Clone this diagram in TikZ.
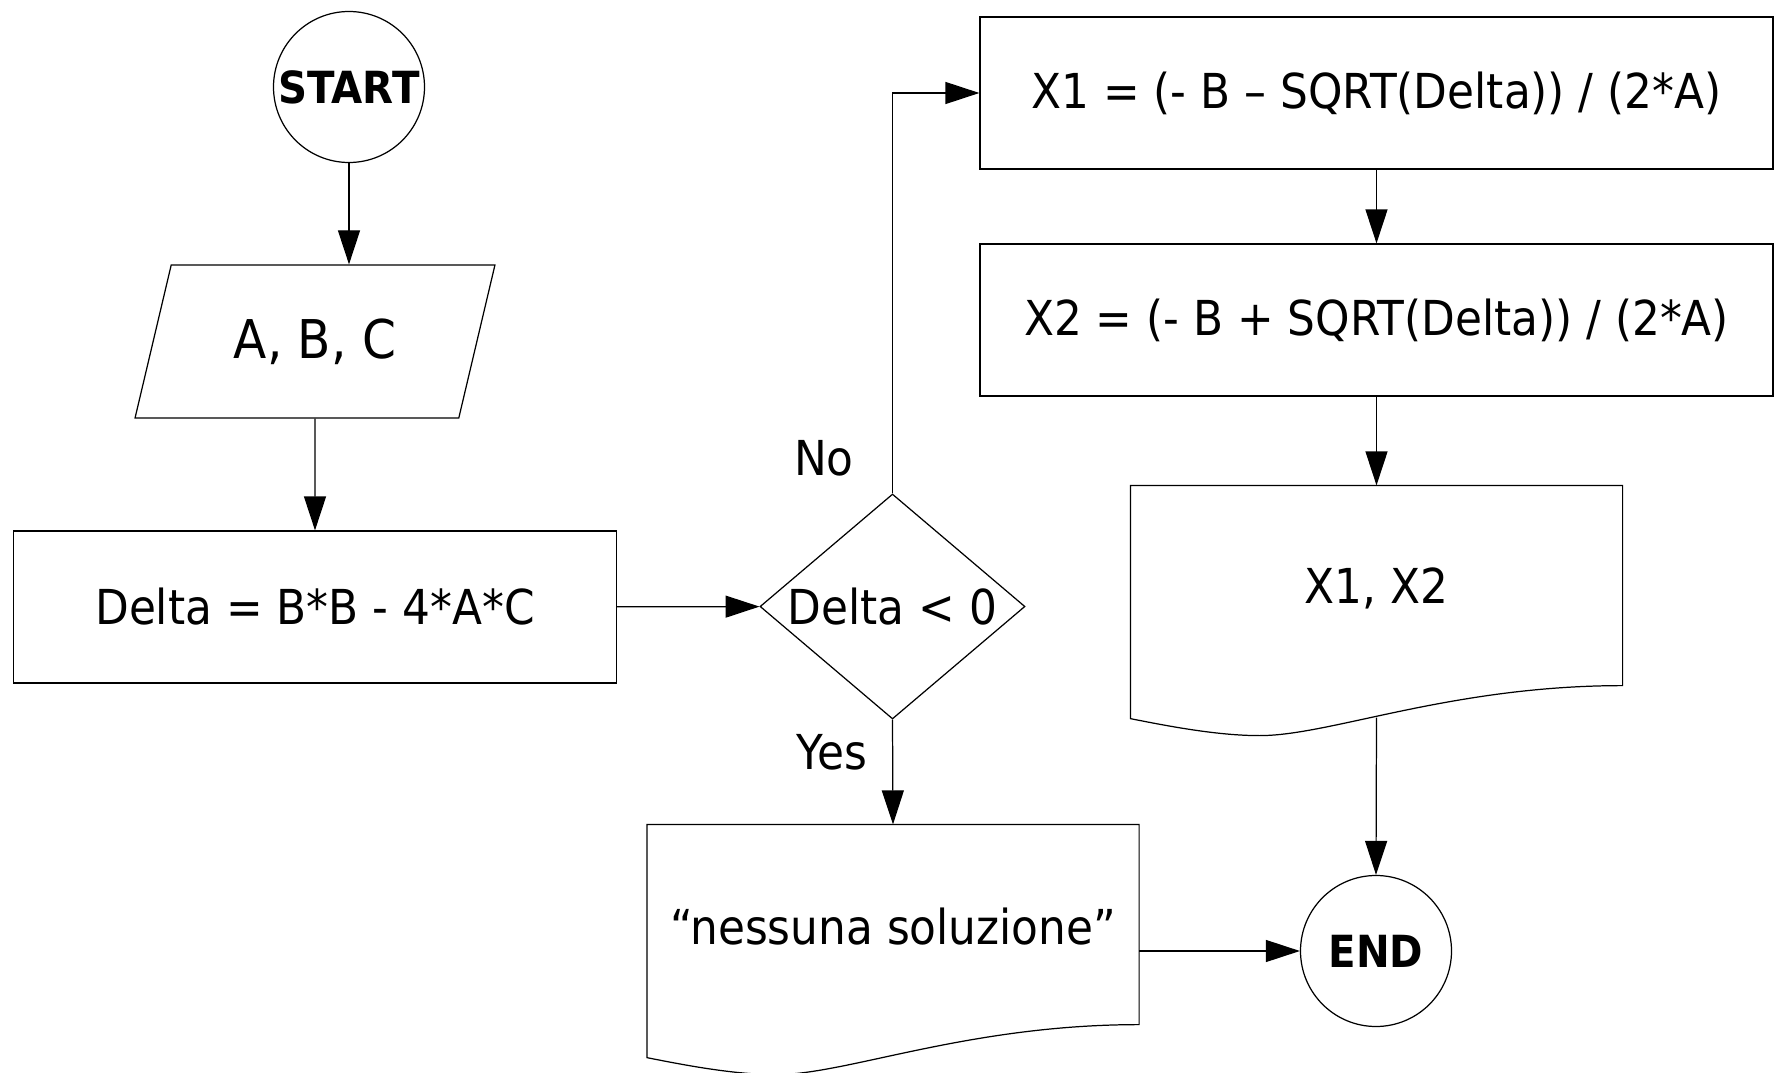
\documentclass[tikz,border=0pt]{standalone}
\usepackage{fontspec}
\setmainfont{DejaVu Sans}[FakeStretch=0.91]
\usetikzlibrary{arrows.meta, shapes.geometric, calc}

\newcommand{\docoutline}[1]{%
    \draw (#1.north west) -- (#1.north east) -- ($(#1.south east)+(0,-5)$)
        .. controls ($(#1.south east)+(-172,-5)$) and ($(#1.south east)+(-292,45)$) .. ($(#1.south east)+(-363,45)$)
        .. controls ($(#1.south west)+(88,45)$) and ($(#1.south west)+(40,36)$) .. ($(#1.south west)+(0,28)$) -- cycle;}

\begin{document}
\begin{tikzpicture}[x=0.1mm, y=-0.1mm, line width=0.35pt,
        every node/.style={font=\fontsize{13.7}{16}\selectfont},
        term/.style={draw, circle, minimum size=15.1mm, inner sep=0, font=\fontsize{12.6}{14}\selectfont\bfseries},
        io/.style={draw, trapezium, trapezium left angle=66, trapezium right angle=114, trapezium stretches=true, minimum width=36.2mm, minimum height=15.3mm, inner sep=0, font=\fontsize{15.2}{18}\selectfont},
        proc/.style={draw, rectangle, minimum width=#1, minimum height=15.2mm, inner sep=0},
        cond/.style={draw, diamond, aspect=1.18, minimum width=26.5mm, minimum height=22.5mm, inner sep=-1mm},
        doc/.style={rectangle, minimum width=49.1mm, minimum height=20.4mm, inner sep=0},
        arr/.style={-{Triangle[length=3.4mm, width=2.2mm]}}]
        \useasboundingbox (0,0) rectangle (1779,1073);
        \node[term] (s) at (349,87) {START};
        \node[io] (i) at (315,341.5) {A, B, C};
        \node[proc=60.3mm] (d) at (315,607) {Delta = B*B - 4*A*C};
        \node[cond] (c) at (892.5,606.5) {Delta < 0};
        \node (no) at (824,458) {No};
        \node (yes) at (832,752) {Yes};
        \node[proc=79.3mm] (x1) at (1376.5,93) {X1 = (- B – SQRT(Delta)) / (2*A)};
        \node[proc=79.3mm] (x2) at (1376.5,320) {X2 = (- B + SQRT(Delta)) / (2*A)};
        \node[doc] (o) at (1376.5,588) {X1, X2};
        \docoutline{o}
        \coordinate (ob) at ($(o.south)+(0,27)$);
        \node[doc] (n) at (893,927) {“nessuna soluzione”};
        \docoutline{n}
        \node[term] (e) at (1376,951) {END};
        \draw[arr] (s.south) -- (s.south |- i.north);
        \draw[arr] (i) -- (d);
        \draw[arr] (d) -- (c);
        \draw[arr] (c.north) |- (x1.west);
        \draw[arr] (x1) -- (x2);
        \draw[arr] (x2.south) -- (o.north);
        \draw[arr] (ob) -- (e.north);
        \draw[arr] (c.south) -- (n.north);
        \draw[arr] (e.west -| n.east) -- (e.west);
\end{tikzpicture}
\end{document}
